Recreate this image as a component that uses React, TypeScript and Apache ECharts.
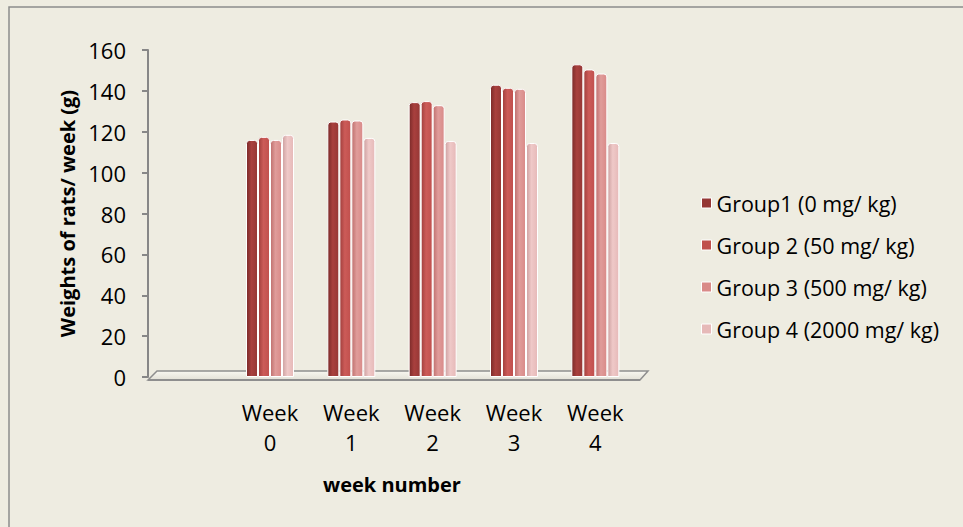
import React, { useEffect, useRef } from "react";
import * as echarts from "echarts";

const categories = ["", "Week\n0", "Week\n1", "Week\n2", "Week\n3", "Week\n4"];
const seriesNames = [
  "Group1 (0 mg/ kg)",
  "Group 2 (50 mg/ kg)",
  "Group 3 (500 mg/ kg)",
  "Group 4 (2000 mg/ kg)",
];
const group1 = [null, 116, 125, 134.5, 143, 153];
const group2 = [null, 117.5, 126, 135, 141.5, 150.5];
const group3 = [null, 116, 125.5, 133, 141, 148.5];
const group4 = [null, 118.5, 117, 115.5, 114.5, 114.5];
const yTicks = { min: 0, max: 160, interval: 20 };

const baseColors = ["#953735", "#C0504D", "#D98A88", "#E6B9B8"];
const darkColors = ["#7A2A29", "#A03E3C", "#BE6F6D", "#CDA0A0"];
const lightColors = ["#A9403E", "#CC5B58", "#E09C9A", "#EFC9C8"];

const FONT = "'Open Sans', 'Noto Sans', sans-serif";

export default function App() {
  const ref = useRef<HTMLDivElement>(null);
  useEffect(() => {
    if (!ref.current) return;
    const chart = echarts.init(ref.current, undefined, { renderer: "svg" });
    const all = [group1, group2, group3, group4];
    const series = all.map((d, i) => ({
      name: seriesNames[i],
      type: "bar",
      data: d,
      barWidth: 12,
      barGap: "0%",
      z: 3,
      itemStyle: {
        color: new echarts.graphic.LinearGradient(0, 0, 1, 0, [
          { offset: 0, color: darkColors[i] },
          { offset: 0.45, color: lightColors[i] },
          { offset: 1, color: baseColors[i] },
        ]),
        borderColor: "#ffffff",
        borderWidth: 1,
        borderRadius: [3, 3, 0, 0],
      },
    }));
    chart.setOption({
      animation: false,
      backgroundColor: "#EEECE1",
      textStyle: { fontFamily: FONT },
      color: baseColors,
      grid: { left: 148, top: 50, width: 488, height: 327, containLabel: false },
      legend: {
        orient: "vertical",
        left: 696,
        top: 183,
        itemWidth: 10,
        itemHeight: 10,
        itemGap: 12,
        icon: "rect",
        textStyle: { fontSize: 21.5, color: "#000", fontFamily: FONT, lineHeight: 30 },
        data: seriesNames.map((n, i) => ({
          name: n,
          itemStyle: { color: baseColors[i], borderColor: "#fff", borderWidth: 1 },
        })),
      },
      xAxis: {
        type: "category",
        data: categories,
        name: "week number",
        nameLocation: "middle",
        nameGap: 97,
        nameTextStyle: { fontSize: 20, fontWeight: "bold", color: "#000", fontFamily: FONT },
        axisLine: { show: false },
        axisTick: { show: false },
        axisLabel: {
          fontSize: 22,
          color: "#000",
          lineHeight: 30,
          margin: 20,
          interval: 0,
          fontFamily: FONT,
        },
      },
      yAxis: {
        type: "value",
        min: yTicks.min,
        max: yTicks.max,
        interval: yTicks.interval,
        name: "Weights of rats/ week (g)",
        nameLocation: "middle",
        nameRotate: 90,
        nameGap: 70,
        nameTextStyle: { fontSize: 20, fontWeight: "bold", color: "#000", fontFamily: FONT },
        splitLine: { show: false },
        axisLine: { show: true, lineStyle: { color: "#878787", width: 2 } },
        axisTick: { show: true, length: 6, lineStyle: { color: "#878787", width: 2 } },
        axisLabel: { fontSize: 22, color: "#000", margin: 22, fontFamily: FONT },
      },
      graphic: [
        {
          type: "rect",
          z: -10,
          silent: true,
          shape: { x: 9, y: 7, width: 970, height: 540 },
          style: { fill: "none", stroke: "#8C8C8C", lineWidth: 1.5 },
        },
        {
          type: "polygon",
          z: -5,
          silent: true,
          shape: { points: [[148, 380], [157, 371], [648, 371], [640, 380]] },
          style: {
            fill: new echarts.graphic.LinearGradient(0, 0, 0, 1, [
              { offset: 0, color: "#F8F7F1" },
              { offset: 1, color: "#E2E0D6" },
            ]),
            stroke: "#8E8E8E",
            lineWidth: 1.5,
          },
        },
        {
          type: "rect",
          z: -5,
          silent: true,
          shape: { x: 148, y: 379, width: 492, height: 2 },
          style: { fill: "#8E8E8E" },
        },
      ],
      series,
    });
    return () => chart.dispose();
  }, []);
  return (
    <div
      ref={ref}
      style={{ position: "absolute", left: 0, top: 0, width: 963, height: 527 }}
    />
  );
}
